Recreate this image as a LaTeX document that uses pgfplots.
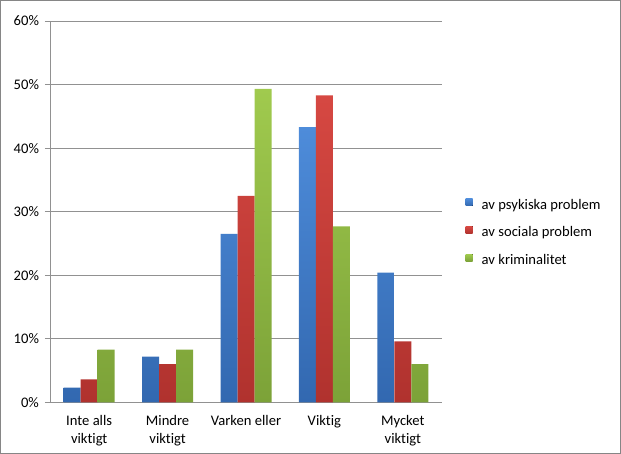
\documentclass[border=0pt]{standalone}
\usepackage{pgfplots}
\pgfplotsset{compat=1.18}
\usepackage{fontspec}
\setmainfont{Carlito}[Ligatures={NoCommon}]
\definecolor{blueT}{RGB}{78,140,218}
\definecolor{blueB}{RGB}{50,104,176}
\definecolor{redT}{RGB}{214,72,66}
\definecolor{redB}{RGB}{176,50,46}
\definecolor{greenT}{RGB}{160,202,78}
\definecolor{greenB}{RGB}{124,162,56}
\definecolor{gridgray}{RGB}{145,145,145}
\definecolor{framegray}{RGB}{134,134,134}
\begin{document}
\fontsize{14.6}{18.5}\selectfont
\begin{tikzpicture}
\draw[framegray, line width=0.8pt] (0.4pt,0.4pt) rectangle (620.6pt,453.6pt);
\begin{axis}[
  at={(50pt,51.7pt)}, anchor=south west,
  scale only axis, width=392pt, height=381.3pt,
  xmin=-0.5, xmax=4.5, ymin=0, ymax=60,
  axis lines*=left,
  axis line style={gridgray, line width=0.8pt},
  ytick={0,10,...,60},
  yticklabel={\pgfmathprintnumber{\tick}\%},
  /pgf/number format/assume math mode=true,
  ymajorgrids, grid style={gridgray, line width=0.8pt},
  tick align=outside, major tick length=5pt,
  ytick style={gridgray, line width=0.8pt},
  xtick={0,...,4}, xtick style={draw=none},
  xticklabels={{Inte alls\\viktigt},{Mindre\\viktigt},{Varken eller},{Viktig},{Mycket\\viktigt}},
  xticklabel style={align=center, text depth=0pt, yshift=-3pt},
  yticklabel style={xshift=-1pt},
  ybar=0pt, bar width=17pt,
  legend cell align=left,
  legend image code/.code={\fill[#1] (0pt,0pt) rectangle (7pt,7pt);},
  legend style={at={(axis description cs:1.06,0.5345)}, anchor=north west,
    draw=none, fill=none, inner sep=0pt, row sep=14.3pt,
    nodes={inner sep=0pt, text height=10pt, text depth=3pt},
    /tikz/every odd column/.style={column sep=9pt}},
]
\addplot[draw=none, top color=blueT, bottom color=blueB] coordinates {(0,2.3) (1,7.2) (2,26.5) (3,43.3) (4,20.4)};
\addplot[draw=none, top color=redT, bottom color=redB] coordinates {(0,3.6) (1,6.0) (2,32.5) (3,48.3) (4,9.6)};
\addplot[draw=none, top color=greenT, bottom color=greenB] coordinates {(0,8.3) (1,8.3) (2,49.3) (3,27.7) (4,6.0)};
\legend{av psykiska problem, av sociala problem, av kriminalitet}
\end{axis}
\end{tikzpicture}
\end{document}
